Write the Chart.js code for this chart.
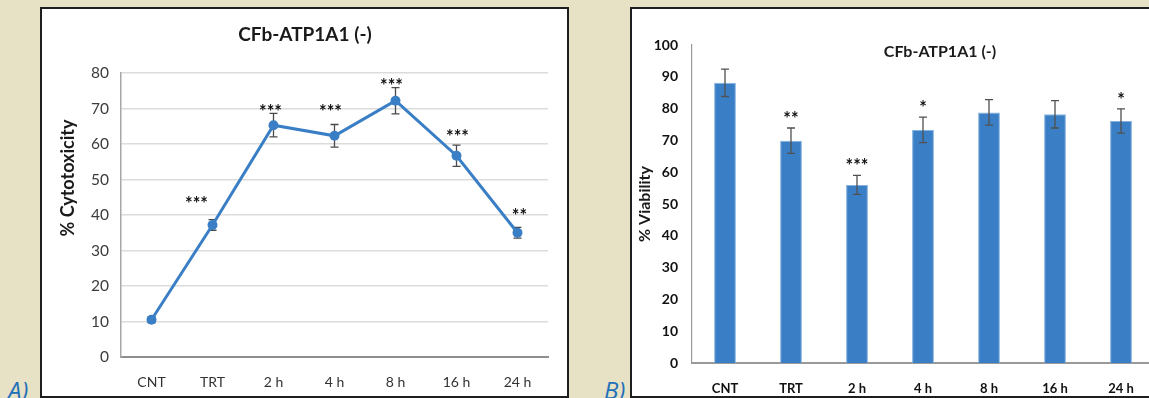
<!DOCTYPE html>
<html>
<head>
<meta charset="utf-8">
<script src="https://cdn.jsdelivr.net/npm/chart.js@4.4.0/dist/chart.umd.min.js"></script>
<style>
  html, body { margin: 0; padding: 0; }
  body {
    width: 1149px; height: 398px; overflow: hidden; position: relative;
    background: #e7e1c5; font-family: Lato, "Open Sans", sans-serif;
  }
  .panel {
    position: absolute; top: 7px; height: 391px; box-sizing: border-box;
    background: #fff; border: 2px solid #1e1e1e;
  }
  #panelA { left: 40px; width: 529px; }
  #panelB { left: 630px; width: 600px; }
  canvas { position: absolute; }
  #chartA { left: 42px; top: 9px; }
  #chartB { left: 632px; top: 9px; }
  .tag {
    position: absolute; font-style: italic; font-size: 24px; line-height: 24px;
    color: #1f70ba; font-family: "Open Sans", Lato, sans-serif;
  }
</style>
</head>
<body>
<div class="panel" id="panelA"></div>
<div class="panel" id="panelB"></div>
<canvas id="chartA" width="525" height="387"></canvas>
<canvas id="chartB" width="616" height="387"></canvas>
<div class="tag" style="left:8px; top:378px;">A)</div>
<div class="tag" style="left:604px; top:378px;">B)</div>

<script>
// ---- data ----
const categories = ['CNT', 'TRT', '2 h', '4 h', '8 h', '16 h', '24 h'];

// Panel A: % cytotoxicity (mean ± SD)
const cytotoxicity    = [10.5, 37.2, 65.3, 62.3, 72.2, 56.7, 35.0];
const cytotoxicityErr = [0.8, 1.5, 3.3, 3.2, 3.7, 3.0, 1.5];
const cytotoxicitySig = ['', '***', '***', '***', '***', '***', '**'];

// Panel B: % viability (mean ± SD)
const viability    = [88.1, 69.9, 56.0, 73.3, 78.8, 78.2, 76.1];
const viabilityErr = [4.3, 4.0, 3.0, 4.0, 4.0, 4.3, 3.8];
const viabilitySig = ['', '**', '***', '*', '', '', '*'];

const chartTitle = 'CFb-ATP1A1 (-)';
const FONT = 'Lato, "Open Sans", sans-serif';
const BLUE = 'rgb(58, 127, 197)';

// ---- helper plugins ----
// Vertical error bars with caps, drawn through the chart's own scales.
function errorBars(errors, style) {
  function draw(chart) {
    const { ctx, scales: { x, y } } = chart;
    const vals = chart.data.datasets[0].data;
    ctx.save();
    ctx.strokeStyle = style.color;
    ctx.lineWidth = style.width;
    vals.forEach((v, i) => {
      const px = x.getPixelForValue(i);
      const top = y.getPixelForValue(v + errors[i]);
      const bot = y.getPixelForValue(v - errors[i]);
      ctx.beginPath();
      ctx.moveTo(px, top); ctx.lineTo(px, bot);
      ctx.moveTo(px - style.cap, top); ctx.lineTo(px + style.cap, top);
      ctx.moveTo(px - style.cap, bot); ctx.lineTo(px + style.cap, bot);
      ctx.stroke();
    });
    ctx.restore();
  }
  return {
    id: 'errorBars',
    beforeDatasetsDraw(chart) { if (style.below) draw(chart); },
    afterDatasetsDraw(chart) { if (!style.below) draw(chart); }
  };
}

// Significance asterisks above each error bar.
function significance(marks, errors, style) {
  return {
    id: 'significance',
    afterDatasetsDraw(chart) {
      const { ctx, scales: { x, y } } = chart;
      const vals = chart.data.datasets[0].data;
      ctx.save();
      ctx.fillStyle = '#111';
      ctx.font = 'bold ' + style.size + 'px ' + FONT;
      ctx.textAlign = 'center';
      ctx.textBaseline = 'alphabetic';
      vals.forEach((v, i) => {
        if (!marks[i]) return;
        const shift = (style.shift && style.shift[i]) || [0, style.gap];
        const px = x.getPixelForValue(i) + shift[0];
        const py = y.getPixelForValue(v + errors[i]) - shift[1];
        ctx.fillText(marks[i], px, py + style.size * 0.6);
      });
      ctx.restore();
    }
  };
}

// Free text captions (chart title, rotated axis title).
function captions(items) {
  return {
    id: 'captions',
    afterDraw(chart) {
      const { ctx } = chart;
      items.forEach(it => {
        ctx.save();
        ctx.translate(it.x, it.y);
        if (it.rotate) ctx.rotate(it.rotate);
        ctx.font = it.font;
        ctx.fillStyle = it.color;
        ctx.textAlign = 'center';
        ctx.textBaseline = 'middle';
        ctx.fillText(it.text, 0, 0);
        ctx.restore();
      });
    }
  };
}

const common = {
  responsive: false,
  animation: false,
  events: [],
  plugins: { legend: { display: false }, tooltip: { enabled: false }, title: { display: false } }
};

// ---- Panel A: line chart ----
new Chart(document.getElementById('chartA'), {
  type: 'line',
  data: {
    labels: categories,
    datasets: [{
      data: cytotoxicity,
      borderColor: BLUE,
      backgroundColor: BLUE,
      borderWidth: 3,
      pointRadius: 5,
      pointBorderWidth: 0,
      pointBackgroundColor: BLUE,
      tension: 0
    }]
  },
  options: {
    ...common,
    layout: { padding: { left: 0, right: 19, top: 64, bottom: 0 } },
    scales: {
      x: {
        offset: true,
        grid: { display: false, drawTicks: false },
        border: { display: true, color: '#8f8f8f', width: 2 },
        ticks: { padding: 17, color: '#333', font: { family: FONT, size: 14 } },
        afterFit(scale) { scale.height = 39; }
      },
      y: {
        min: 0, max: 80,
        ticks: { stepSize: 10, padding: 12, color: '#3c3c3c', font: { family: FONT, size: 15.5 } },
        grid: { color: '#dcdcdc', lineWidth: 1.6, drawTicks: false },
        border: { color: '#a8a8a8', width: 1.5 },
        afterFit(scale) { scale.width = 79; }
      }
    }
  },
  plugins: [
    errorBars(cytotoxicityErr, { color: '#4a4a4a', width: 1.3, cap: 4, below: true }),
    significance(cytotoxicitySig, cytotoxicityErr, {
      size: 18, gap: 9,
      shift: { 1: [-16, 20], 2: [-3, 6], 3: [-4, 17], 4: [-4, 6], 5: [1, 13], 6: [2, 16] }
    }),
    captions([
      { text: chartTitle, x: 263, y: 26, font: 'bold 19px ' + FONT, color: '#1a1a1a' },
      { text: '% Cytotoxicity', x: 26, y: 169, rotate: -Math.PI / 2, font: 'bold 18px ' + FONT, color: '#1a1a1a' }
    ])
  ]
});

// ---- Panel B: bar chart ----
new Chart(document.getElementById('chartB'), {
  type: 'bar',
  data: {
    labels: categories,
    datasets: [{
      data: viability,
      backgroundColor: BLUE,
      borderColor: 'rgba(120, 170, 220, 0.9)',
      borderWidth: 1,
      barPercentage: 0.33,
      categoryPercentage: 1
    }]
  },
  options: {
    ...common,
    layout: { padding: { left: 0, right: 94, top: 36, bottom: 0 } },
    scales: {
      x: {
        grid: { display: false, drawTicks: false },
        border: { display: true, color: '#9a9a9a', width: 2 },
        ticks: { padding: 18, color: '#111', font: { family: FONT, size: 13, weight: 'bold' } },
        afterFit(scale) { scale.height = 33; }
      },
      y: {
        min: 0, max: 100,
        ticks: { stepSize: 10, padding: 14, color: '#111', font: { family: FONT, size: 14, weight: 'bold' } },
        grid: { display: false, drawTicks: false },
        border: { color: '#9a9a9a', width: 1.2 },
        afterFit(scale) { scale.width = 60; }
      }
    }
  },
  plugins: [
    errorBars(viabilityErr, { color: '#505050', width: 1.3, cap: 4, below: false }),
    significance(viabilitySig, viabilityErr, { size: 18, gap: 14 }),
    captions([
      { text: chartTitle, x: 308, y: 43, font: 'bold 16px ' + FONT, color: '#1a1a1a' },
      { text: '% Viability', x: 13, y: 195, rotate: -Math.PI / 2, font: 'bold 16px ' + FONT, color: '#1a1a1a' }
    ])
  ]
});
</script>
</body>
</html>
